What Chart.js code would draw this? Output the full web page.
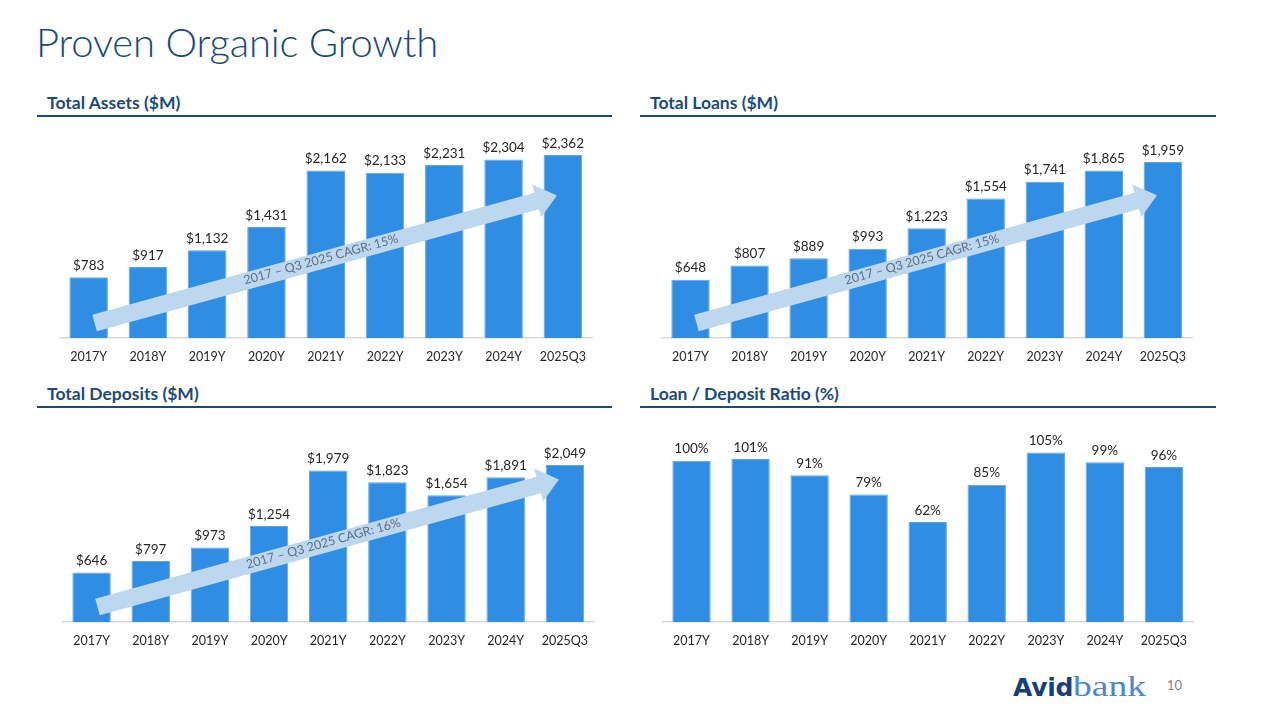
<!DOCTYPE html>
<html>
<head>
<meta charset="utf-8">
<script src="https://cdn.jsdelivr.net/npm/chart.js@4.4.1/dist/chart.umd.min.js"></script>
<style>
  body { margin: 0; width: 1280px; height: 720px; background: #fff; position: relative; overflow: hidden; font-family: Lato, "Open Sans", sans-serif; }
  .title { position: absolute; left: 36px; top: 18px; font-size: 40px; font-weight: 300; color: #1b4a7a; letter-spacing: -0.2px; }
  .sec { position: absolute; font-size: 17.5px; font-weight: 700; color: #1b4a7a; border-bottom: 2px solid #1b4a7a; padding-left: 10px; height: 22px; line-height: 20px; }
  .box { position: absolute; }
  .logo { position: absolute; left: 1013px; top: 669px; white-space: nowrap; }
  .logo .a { font-family: "DejaVu Sans", sans-serif; font-weight: 700; font-size: 25px; color: #173f78; letter-spacing: -0.3px; }
  .logo .b { display: inline-block; font-family: "Liberation Serif", serif; font-size: 30px; color: #4f86cc; transform: scaleX(1.25); transform-origin: left center; }
  .pg { position: absolute; left: 1167px; top: 677px; font-size: 13px; color: #7f7f7f; }
</style>
</head>
<body>
<div class="title">Proven Organic Growth</div>
<div class="sec" style="left:37px;top:93px;width:565px;">Total Assets ($M)</div>
<div class="sec" style="left:640px;top:93px;width:566px;">Total Loans ($M)</div>
<div class="sec" style="left:37px;top:384px;width:565px;">Total Deposits ($M)</div>
<div class="sec" style="left:640px;top:384px;width:566px;">Loan / Deposit Ratio (%)</div>

<div class="box" style="left:59px;top:125px;width:538px;height:243px;"><canvas id="cAssets"></canvas></div>
<div class="box" style="left:661px;top:125px;width:536px;height:243px;"><canvas id="cLoans"></canvas></div>
<div class="box" style="left:62px;top:409px;width:537px;height:243px;"><canvas id="cDeposits"></canvas></div>
<div class="box" style="left:662px;top:409px;width:536px;height:243px;"><canvas id="cRatio"></canvas></div>

<div class="logo"><span class="a">Avid</span><span class="b">bank</span></div>
<div class="pg">10</div>

<script>
// data
var categories = ['2017Y', '2018Y', '2019Y', '2020Y', '2021Y', '2022Y', '2023Y', '2024Y', '2025Q3'];
var assets   = [783, 917, 1132, 1431, 2162, 2133, 2231, 2304, 2362];
var loans    = [648, 807, 889, 993, 1223, 1554, 1741, 1865, 1959];
var deposits = [646, 797, 973, 1254, 1979, 1823, 1654, 1891, 2049];
var ratio    = [100, 101, 91, 79, 62, 85, 105, 99, 96];

var barBlue = '#2f8de4';

function money(v) { return '$' + v.toLocaleString('en-US'); }
function pct(v) { return v + '%'; }

// value labels above each bar
var barLabels = {
    id: 'barLabels',
    afterDatasetsDraw: function (chart, args, opts) {
        var ctx = chart.ctx;
        var meta = chart.getDatasetMeta(0);
        var data = chart.data.datasets[0].data;
        ctx.save();
        ctx.font = '13.5px Lato';
        ctx.fillStyle = '#262626';
        ctx.textAlign = 'center';
        ctx.textBaseline = 'bottom';
        meta.data.forEach(function (bar, i) {
            ctx.fillText(opts.fmt(data[i]), bar.x, bar.y - 5);
        });
        ctx.restore();
    }
};

// CAGR arrow, ends given in (category index, value)
var cagrArrow = {
    id: 'cagrArrow',
    afterDatasetsDraw: function (chart, args, opts) {
        if (!opts.from) return;
        var xs = chart.scales.x, ys = chart.scales.y, ctx = chart.ctx;
        var x0 = xs.getPixelForValue(opts.from[0]), y0 = ys.getPixelForValue(opts.from[1]);
        var x1 = xs.getPixelForValue(opts.to[0]), y1 = ys.getPixelForValue(opts.to[1]);
        var len = Math.hypot(x1 - x0, y1 - y0);
        var ang = Math.atan2(y1 - y0, x1 - x0);
        var hw = 8.5, hl = 21, hh = 17;
        ctx.save();
        ctx.translate(x0, y0);
        ctx.rotate(ang);
        ctx.beginPath();
        ctx.moveTo(0, -hw);
        ctx.lineTo(len - hl, -hw);
        ctx.lineTo(len - hl, -hh);
        ctx.lineTo(len, 0);
        ctx.lineTo(len - hl, hh);
        ctx.lineTo(len - hl, hw);
        ctx.lineTo(0, hw);
        ctx.closePath();
        ctx.fillStyle = '#bdd7ee';
        ctx.fill();
        ctx.font = '12.5px Lato';
        ctx.fillStyle = '#5b6f86';
        ctx.textAlign = 'center';
        ctx.textBaseline = 'middle';
        ctx.fillText(opts.text, len * 0.49, -1);
        ctx.restore();
    }
};

function makeChart(id, values, yMax, fmt, arrow) {
    return new Chart(document.getElementById(id).getContext('2d'), {
        type: 'bar',
        data: {
            labels: categories,
            datasets: [{
                data: values,
                backgroundColor: barBlue,
                borderColor: '#5ea6ec',
                borderWidth: 1,
                barPercentage: 0.65,
                categoryPercentage: 1
            }]
        },
        options: {
            responsive: true,
            maintainAspectRatio: false,
            animation: false,
            layout: { padding: 0 },
            plugins: {
                legend: { display: false },
                tooltip: { enabled: false },
                barLabels: { fmt: fmt },
                cagrArrow: arrow || {}
            },
            scales: {
                x: {
                    grid: { display: false, drawTicks: false },
                    border: { display: true, color: '#d9d9d9', width: 1.5 },
                    ticks: { color: '#262626', font: { family: 'Lato', size: 12.5 }, padding: 11, maxRotation: 0 },
                    afterFit: function (s) { s.height = 30; }
                },
                y: { display: false, min: 0, max: yMax }
            }
        },
        plugins: [barLabels, cagrArrow]
    });
}

makeChart('cAssets', assets, 2748, money,
    { from: [0.1, 194], to: [7.9, 1840], text: '2017 \u2013 Q3 2025 CAGR: 15%' });
makeChart('cLoans', loans, 2372, money,
    { from: [0.1, 167], to: [7.9, 1590], text: '2017 \u2013 Q3 2025 CAGR: 15%' });
makeChart('cDeposits', deposits, 2781, money,
    { from: [0.1, 196], to: [7.9, 1862], text: '2017 \u2013 Q3 2025 CAGR: 16%' });
makeChart('cRatio', ratio, 132, pct, null);
</script>
</body>
</html>
